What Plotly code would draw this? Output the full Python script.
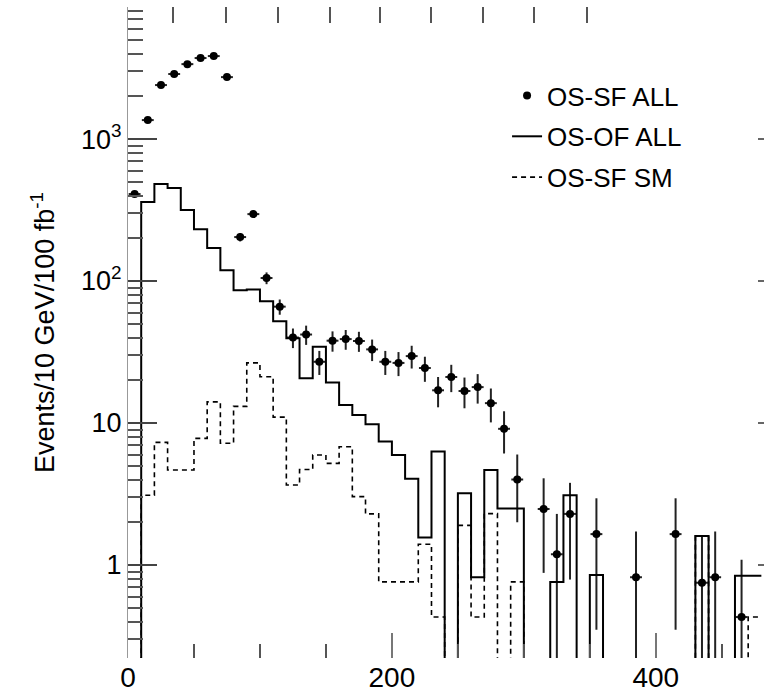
import numpy as np
import plotly.graph_objects as go

# ---------------- data ----------------
BIN_WIDTH = 10  # GeV

# OS-SF ALL : points with errors (bin centres)
sf_all_x = [5, 15, 25, 35, 45, 55, 65, 75, 85, 95,
            105, 115, 125, 135, 145, 155, 165, 175, 185, 195,
            205, 215, 225, 235, 245, 255, 265, 275, 285, 295,
            315, 325, 335, 355, 385, 415, 435, 445, 465]
sf_all_y = [410, 1360, 2400, 2870, 3370, 3720, 3840, 2730, 204, 296,
            105, 66, 40, 42, 27, 38, 39, 37.8, 33, 27,
            26.5, 29.6, 24.4, 17, 21.1, 16.8, 17.9, 13.8, 9.1, 4.0,
            2.48, 1.19, 2.29, 1.65, 0.82, 1.65, 0.75, 0.82, 0.43]
sf_all_err = [20, 37, 49, 54, 58, 61, 62, 52, 14, 17,
              10, 8.1, 6.3, 6.5, 5.2, 6.2, 6.2, 6.1, 5.7, 5.2,
              5.1, 5.4, 4.9, 4.1, 4.6, 4.1, 4.2, 3.7, 3.0, 2.0,
              1.6, 1.1, 1.5, 1.3, 0.9, 1.3, 0.87, 0.9, 0.66]

# OS-OF ALL : histogram contents, bins 0-10, 10-20, ... 470-480
of_all = [0, 360, 482, 452, 316, 232, 171, 119, 86, 87,
          72, 52, 39.6, 20.7, 34.5, 19.3, 13.4, 11.4, 9.8, 7.4,
          5.95, 4.05, 1.56, 6.3, 0, 3.2, 0.82, 4.67, 2.5, 2.5,
          0, 0, 0.76, 3.1, 0, 0.85, 0, 0, 0, 0,
          0, 0, 0, 1.6, 0, 0, 0.84, 0.84]

# OS-SF SM : histogram contents, same bins
sf_sm = [0, 3.1, 7.3, 4.67, 4.67, 7.8, 14.1, 7.2, 13.1, 26.5,
         21.2, 11.0, 3.66, 4.7, 5.95, 5.2, 6.8, 3.03, 2.29, 0.76,
         0.76, 0.76, 1.4, 0.43, 0, 1.9, 0.43, 2.3, 0, 0.76,
         0, 0, 0, 0, 0, 0, 0, 0, 0, 0,
         0, 0, 0, 1.6, 0, 0, 0, 0.43]

series_names = ["OS-SF ALL", "OS-OF ALL", "OS-SF SM"]
y_tick_vals = [1, 10, 100, 1000]
y_tick_text = ["1", "10", "10<sup>2</sup>", "10<sup>3</sup>"]
x_tick_vals = [0, 200, 400]
top_tick_vals = [34, 74, 114, 153, 191, 230, 269, 308, 348]

# ---------------- helpers ----------------
edges = np.arange(0, BIN_WIDTH * (len(of_all) + 1), BIN_WIDTH)
minor_y_vals = [m * 10.0 ** e for e in range(-1, 4) for m in range(2, 10)]


def step_y(vals):
    v = np.asarray(vals, dtype=float)
    v = np.where(v > 0, v, 1e-3)  # empty bins fall below the log axis
    return np.append(v, v[-1])


X_RANGE = [0, 482]
Y_RANGE = [-0.655, 3.93]
FONT = "Liberation Sans, Arial, Helvetica, sans-serif"

fig = go.Figure()

fig.add_trace(go.Scatter(
    x=sf_all_x, y=sf_all_y, mode="markers", name=series_names[0],
    marker=dict(color="black", size=8, symbol="circle"),
    error_y=dict(type="data", array=sf_all_err, color="#222", thickness=2, width=0),
    error_x=dict(type="constant", value=4.5, color="#222", thickness=2, width=0),
    legendgroup="a",
))
fig.add_trace(go.Scatter(
    x=edges, y=step_y(of_all), mode="lines", name=series_names[1],
    line=dict(color="black", width=2, shape="hv"),
    legendgroup="b",
))
fig.add_trace(go.Scatter(
    x=edges, y=step_y(sf_sm), mode="lines", name=series_names[2],
    line=dict(color="black", width=1.6, shape="hv", dash="5px,4px"),
    legendgroup="c",
))
# empty trace to bring up the top/right tick-only axes
fig.add_trace(go.Scatter(x=[], y=[], xaxis="x2", yaxis="y2", showlegend=False,
                         hoverinfo="skip"))

fig.update_layout(
    width=764, height=695,
    margin=dict(l=128, r=0, t=7, b=37),
    paper_bgcolor="white", plot_bgcolor="white",
    font=dict(family=FONT, color="black", size=26),
    showlegend=True,
    legend=dict(x=0.596, y=0.90, xanchor="left", yanchor="top",
                bgcolor="rgba(0,0,0,0)", font=dict(size=26, family=FONT),
                traceorder="grouped", tracegroupgap=4),
    xaxis=dict(
        range=X_RANGE, showline=False, showgrid=False, zeroline=False,
        tickvals=x_tick_vals, ticks="inside", ticklen=25, tickcolor="#777",
        tickwidth=1.5, tickfont=dict(size=28, family=FONT),
        minor=dict(dtick=50, ticks="inside", ticklen=14, tickcolor="#555",
                   tickwidth=2, showgrid=False),
    ),
    yaxis=dict(
        type="log", range=Y_RANGE, showline=True, linecolor="#999", linewidth=1,
        showgrid=False, zeroline=False,
        tickvals=y_tick_vals, ticktext=y_tick_text,
        ticks="inside", ticklen=29, tickcolor="#444", tickwidth=1.5,
        tickfont=dict(size=27, family=FONT),
        minor=dict(tickvals=minor_y_vals, ticks="inside", ticklen=15,
                   tickcolor="#555", tickwidth=2, showgrid=False),
        title=dict(text="Events/10 GeV/100 fb<sup>-1</sup>",
                   font=dict(size=27, family=FONT), standoff=18),
    ),
    xaxis2=dict(
        overlaying="x", side="top", anchor="y2", range=X_RANGE,
        showline=False, showgrid=False, zeroline=False,
        tickvals=top_tick_vals, ticks="inside", ticklen=16, tickwidth=2,
        tickcolor="#555", showticklabels=False,
    ),
    yaxis2=dict(
        overlaying="y", side="right", anchor="x2", type="log", range=Y_RANGE,
        showline=False, showgrid=False, zeroline=False,
        tickvals=y_tick_vals, ticks="inside", ticklen=6, tickwidth=1.5,
        tickcolor="#666", showticklabels=False,
    ),
)

fig.write_html("out.html")
